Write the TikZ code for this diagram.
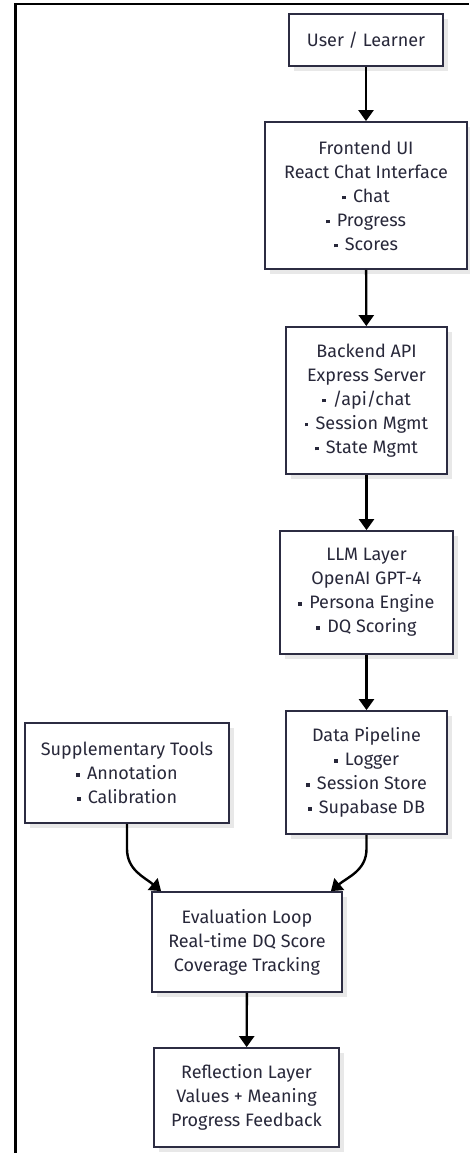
\documentclass[tikz,border=0pt]{standalone}
\usepackage{fontspec}
\setmainfont{Fira Sans}
\usetikzlibrary{arrows.meta,shadows,calc}
\definecolor{boxline}{RGB}{44,44,66}
\definecolor{boxtext}{RGB}{40,40,58}
\newcommand{\sqb}{\raisebox{0.3ex}{\rule{3.6pt}{3.6pt}}\hspace{0.4em}}
\begin{document}
\begin{tikzpicture}[x=1pt,y=-1pt,
    box/.style = {draw=boxline, line width=1.8pt, fill=white, align=center,
                  text=boxtext, font=\fontsize{18}{24}\selectfont, inner sep=0pt,
                  drop shadow={shadow xshift=5pt, shadow yshift=-5pt, fill=black!9, opacity=1}},
    arrow/.style = {line width=2.4pt, -{Triangle[width=15pt,length=11pt]}}]
    \useasboundingbox (0,0) rectangle (469,1153);
    \draw[line width=2pt] (14,4.5) -- (469,4.5);
    \draw[line width=3pt] (15,3.5) -- (15,1153);

    \node[box, minimum width=154pt, minimum height=52pt]  (user) at (366,40)     {User / Learner};
    \node[box, minimum width=202pt, minimum height=147pt] (front) at (366,195.5) {Frontend UI\\React Chat Interface\\\sqb Chat\\\sqb Progress\\\sqb Scores};
    \node[box, minimum width=161pt, minimum height=147pt] (back) at (366.5,400.5) {Backend API\\Express Server\\\sqb /api/chat\\\sqb Session Mgmt\\\sqb State Mgmt};
    \node[box, minimum width=173pt, minimum height=123pt] (llm) at (366.5,592.5)  {LLM Layer\\OpenAI GPT-4\\\sqb Persona Engine\\\sqb DQ Scoring};
    \node[box, minimum width=161pt, minimum height=123pt] (data) at (366.5,772.5) {Data Pipeline\\\sqb Logger\\\sqb Session Store\\\sqb Supabase DB};
    \node[box, minimum width=204pt, minimum height=100pt] (supp) at (127,773)     {Supplementary Tools\\\sqb Annotation\\\sqb Calibration};
    \node[box, minimum width=190pt, minimum height=100pt] (eval) at (247,942)     {Evaluation Loop\\Real-time DQ Score\\Coverage Tracking};
    \node[box, minimum width=185pt, minimum height=99pt]  (refl) at (246.5,1097.5) {Reflection Layer\\Values + Meaning\\Progress Feedback};

    \coordinate (evalin1) at ($(eval.north west)+(10,0)$);
    \coordinate (evalin2) at ($(eval.north east)+(-12,0)$);

    \draw[arrow] (user) -- (front);
    \draw[arrow] (front) -- (back);
    \draw[arrow] (back) -- (llm);
    \draw[arrow] (llm) -- (data);
    \draw[arrow] (supp.south) -- ++(0,25) to[out=-90,in=140] (evalin1);
    \draw[arrow] (data.south) -- ++(0,14) to[out=-90,in=40] (evalin2);
    \draw[arrow] (eval) -- (refl);
\end{tikzpicture}
\end{document}
